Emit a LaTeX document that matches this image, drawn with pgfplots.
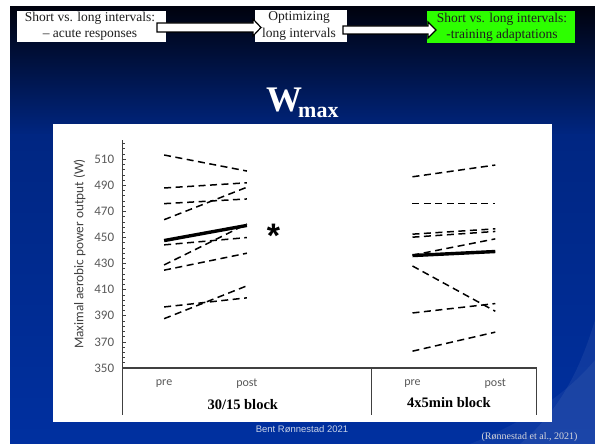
\documentclass[border=0pt]{standalone}
\usepackage{fontspec}
\setmainfont{Liberation Serif}
\newfontfamily\carlito{Carlito}
\newfontfamily\arialf{Liberation Sans}
\usepackage{pgfplots}
\pgfplotsset{compat=1.18}
\definecolor{navyA}{RGB}{0,2,14}
\definecolor{navyB}{RGB}{0,38,130}
\definecolor{navyC}{RGB}{0,48,160}
\definecolor{boxgreen}{RGB}{45,255,0}
\definecolor{axgray}{RGB}{64,64,64}
\definecolor{tickgray}{RGB}{89,89,89}
\definecolor{foot}{RGB}{200,210,232}
\definecolor{cite}{RGB}{215,215,220}
\pgfplotsset{
  ind/.style={black, mark=none, line width=1.5pt, dash pattern=on 7pt off 4.5pt},
  avg/.style={black, mark=none, solid, line width=3.4pt},
}
\begin{document}
\begin{tikzpicture}[x=1pt,y=1pt]
\fill[white] (0,0) rectangle (595,-444);
\shade[top color=navyA, bottom color=navyB] (10,-7) rectangle (595,-136);
\shade[top color=navyB, bottom color=navyC] (10,-135) rectangle (595,-444);
% swoosh lower right
\fill[white, opacity=0.06] (520,-444) .. controls (560,-410) and (580,-370) .. (595,-320) -- (595,-444) -- cycle;
\fill[white, opacity=0.05] (470,-444) .. controls (530,-420) and (570,-390) .. (595,-360) -- (595,-444) -- cycle;
% white panel
\fill[white] (53.3,-124) rectangle (551.7,-422.3);
% top boxes
\fill[white] (17,-11) rectangle (166,-42);
\node[align=center, font=\fontsize{13.5}{16.5}\selectfont, text={rgb,255:red,30;green,30;blue,30}] at (90,-26.5) {Short vs. long intervals:\\ -- acute responses};
\fill[white] (255,-10) rectangle (346.7,-42);
\node[align=center, font=\fontsize{13.5}{16.5}\selectfont, text={rgb,255:red,30;green,30;blue,30}] at (299,-26) {Optimizing\\ long intervals};
\fill[boxgreen] (427,-11) rectangle (575,-43);
\node[align=center, font=\fontsize{13.5}{16.5}\selectfont, text={rgb,255:red,30;green,30;blue,30}] at (502,-27.5) {Short vs. long intervals:\\ -training adaptations};
% arrows
\filldraw[fill=white, draw=black, line width=1.2pt] (157,-23) -- (253,-23) -- (253,-19) -- (261,-27.5) -- (253,-36) -- (253,-32) -- (157,-32) -- cycle;
\filldraw[fill=white, draw=black, line width=1.2pt] (343,-26) -- (428,-26) -- (428,-22) -- (436,-30) -- (428,-38) -- (428,-34) -- (343,-34) -- cycle;
% title
\node[anchor=base west, inner sep=0, text=white, font=\bfseries\fontsize{36}{36}\selectfont] at (266,-112) {W};
\node[anchor=base west, inner sep=0, text=white, font=\bfseries\fontsize{22}{22}\selectfont] at (298,-118) {max};
% footer
\node[font=\arialf\fontsize{9.5}{11}\selectfont, text=foot] at (302,-429) {Bent Rønnestad 2021};
\node[font=\fontsize{10}{12}\selectfont, text=cite] at (529.5,-437) {(Rønnestad et al., 2021)};
\begin{axis}[
  at={(122.7pt,-368pt)}, anchor=south west,
  width=414pt, height=228pt, scale only axis,
  xmin=0.5, xmax=5.5, ymin=350, ymax=524.8,
  axis x line*=bottom, axis y line*=left,
  axis line style={axgray, line width=1.1pt},
  xtick={1,2,4,5}, xticklabels={pre,post,pre,post},
  xtick style={draw=none},
  xticklabel style={anchor=center, yshift=-16pt, font=\carlito\fontsize{12}{14}\selectfont, text=tickgray},
  ytick={350,370,...,510},
  minor y tick num=4,
  extra y ticks={514,518,522}, extra y tick labels={},
  extra y tick style={major tick length=2.5pt},
  tick align=inside,
  ytick pos=left,
  major tick length=3.5pt, minor tick length=2.5pt,
  y tick style={axgray, line width=0.8pt},
  yticklabel style={font=\carlito\fontsize{13}{15}\selectfont, text=tickgray, xshift=-5pt},
  /pgf/number format/assume math mode=true,
  ylabel={Maximal aerobic power output (W)},
  ylabel style={font=\carlito\fontsize{13.3}{15}\selectfont, text=axgray, at={(axis description cs:-0.1039,0.5)}, anchor=center},
  clip=false,
]
% 30/15 block individuals
\addplot[ind] coordinates {(1,513.3) (2,501.0)};
\addplot[ind] coordinates {(1,488.0) (2,492.0)};
\addplot[ind] coordinates {(1,476.0) (2,479.6)};
\addplot[ind] coordinates {(1,463.7) (2,488.6)};
\addplot[ind] coordinates {(1,444.4) (2,450.0)};
\addplot[ind] coordinates {(1,429.0) (2,460.4)};
\addplot[ind] coordinates {(1,425.0) (2,438.0)};
\addplot[ind] coordinates {(1,396.8) (2,403.8)};
\addplot[ind] coordinates {(1,387.8) (2,413.0)};
\addplot[avg] coordinates {(1,447.7) (2,459.3)};
% 4x5min block individuals
\addplot[ind] coordinates {(4,496.6) (5,505.6)};
\addplot[ind] coordinates {(4,476.0) (5,476.0)};
\addplot[ind] coordinates {(4,452.6) (5,456.7)};
\addplot[ind] coordinates {(4,450.3) (5,454.7)};
\addplot[ind] coordinates {(4,436.5) (5,449.0)};
\addplot[ind] coordinates {(4,428.2) (5,393.5)};
\addplot[ind] coordinates {(4,392.2) (5,399.4)};
\addplot[ind] coordinates {(4,362.9) (5,377.5)};
\addplot[avg] coordinates {(4,436.2) (5,439.3)};
% frame below axis
\draw[axgray, line width=1.1pt] (axis cs:0.5,350) -- (axis cs:0.5,314);
\draw[axgray, line width=1.1pt] (axis cs:3.5,350) -- (axis cs:3.5,314);
\draw[axgray, line width=1.1pt] (axis cs:5.5,350) -- (axis cs:5.5,314);
\node[font=\bfseries\fontsize{14.5}{14.5}\selectfont, yshift=-37pt] at (axis cs:1.95,350) {30/15 block};
\node[font=\bfseries\fontsize{14.5}{14.5}\selectfont, yshift=-35pt] at (axis cs:4.44,350) {4x5min block};
\node[anchor=base, font=\arialf\bfseries\fontsize{34}{34}\selectfont] at (axis cs:2.32,442.2) {*};
\end{axis}
\end{tikzpicture}
\end{document}
